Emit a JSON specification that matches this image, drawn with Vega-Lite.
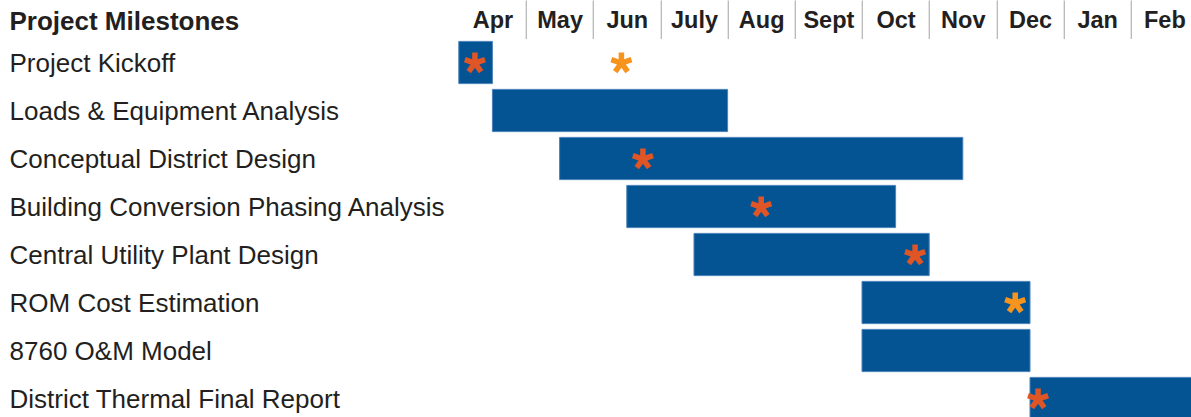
{
  "$schema": "https://vega.github.io/schema/vega-lite/v6.json",
  "autosize": "none",
  "padding": {"left": 458.8, "top": 38.5, "right": 0, "bottom": 0},
  "width": 739.2,
  "height": 384,
  "background": "white",
  "config": {"view": {"stroke": null}, "font": "Liberation Sans"},
  "datasets": {
    "tasks": [
      {"task": "Project Kickoff", "start": 0, "end": 0.5},
      {"task": "Loads & Equipment Analysis", "start": 0.5, "end": 4.0},
      {"task": "Conceptual District Design", "start": 1.5, "end": 7.5},
      {"task": "Building Conversion Phasing Analysis", "start": 2.5, "end": 6.5},
      {"task": "Central Utility Plant Design", "start": 3.5, "end": 7.0},
      {"task": "ROM Cost Estimation", "start": 6.0, "end": 8.5},
      {"task": "8760 O&M Model", "start": 6.0, "end": 8.5},
      {"task": "District Thermal Final Report", "start": 8.5, "end": 11.0}
    ],
    "marks": [
      {"task": "Project Kickoff", "at": 0.24, "kind": "red"},
      {"task": "Project Kickoff", "at": 2.42, "kind": "orange"},
      {"task": "Conceptual District Design", "at": 2.74, "kind": "red"},
      {"task": "Building Conversion Phasing Analysis", "at": 4.5, "kind": "red"},
      {"task": "Central Utility Plant Design", "at": 6.79, "kind": "red"},
      {"task": "ROM Cost Estimation", "at": 8.28, "kind": "orange"},
      {"task": "District Thermal Final Report", "at": 8.62, "kind": "red"}
    ]
  },
  "layer": [
    {
      "data": {"name": "tasks"},
      "mark": {"type": "bar", "color": "#045494", "stroke": "#4a80ba", "strokeWidth": 1},
      "encoding": {
        "y": {
          "field": "task",
          "type": "nominal",
          "sort": null,
          "scale": {"paddingInner": 0.12, "paddingOuter": 0.06},
          "axis": {
            "orient": "left",
            "domain": false,
            "ticks": false,
            "tickSize": 0,
            "grid": false,
            "labelAlign": "left",
            "labelBaseline": "middle",
            "labelPadding": 449.8,
            "labelOffset": 1,
            "labelFontSize": 26,
            "labelColor": "#231f20",
            "labelLimit": 0,
            "title": "Project Milestones",
            "titleAngle": 0,
            "titleAlign": "left",
            "titleBaseline": "alphabetic",
            "titleX": -449.8,
            "titleY": -9.2,
            "titleFontSize": 26,
            "titleFontWeight": "bold",
            "titleColor": "#231f20"
          }
        },
        "x": {
          "field": "start",
          "type": "quantitative",
          "scale": {"domain": [0, 11], "nice": false, "zero": false},
          "axis": {
            "orient": "top",
            "values": [0, 1, 2, 3, 4, 5, 6, 7, 8, 9, 10],
            "domain": false,
            "grid": false,
            "tickSize": 38.5,
            "tickWidth": 1.3,
            "tickColor": "#b8b8b8",
            "tickOpacity": {"condition": {"test": "datum.value == 0", "value": 0}, "value": 1},
            "labelOffset": 33.6,
            "labelAlign": "center",
            "labelBaseline": "alphabetic",
            "labelPadding": -27.3,
            "labelFontSize": 23.5,
            "labelFontWeight": "bold",
            "labelColor": "#231f20",
            "labelFlush": false,
            "labelOverlap": false,
            "labelExpr": "['Apr','May','Jun','July','Aug','Sept','Oct','Nov','Dec','Jan','Feb'][datum.value]",
            "title": null
          }
        },
        "x2": {"field": "end"}
      }
    },
    {
      "data": {"name": "marks"},
      "mark": {
        "type": "point",
        "filled": true,
        "opacity": 1,
        "size": 450,
        "yOffset": 0.5,
        "shape": "M -0.26 -1 L 0.26 -1 L 0.26 -0.358 L 0.871 -0.556 L 1.031 -0.062 L 0.42 0.137 L 0.798 0.656 L 0.378 0.962 L 0 0.442 L -0.378 0.962 L -0.798 0.656 L -0.42 0.137 L -1.031 -0.062 L -0.871 -0.556 L -0.26 -0.358 Z"
      },
      "encoding": {
        "y": {"field": "task", "type": "nominal", "sort": null},
        "x": {"field": "at", "type": "quantitative"},
        "color": {
          "field": "kind",
          "type": "nominal",
          "scale": {"domain": ["red", "orange"], "range": ["#e05526", "#f7941e"]},
          "legend": null
        }
      }
    }
  ]
}
